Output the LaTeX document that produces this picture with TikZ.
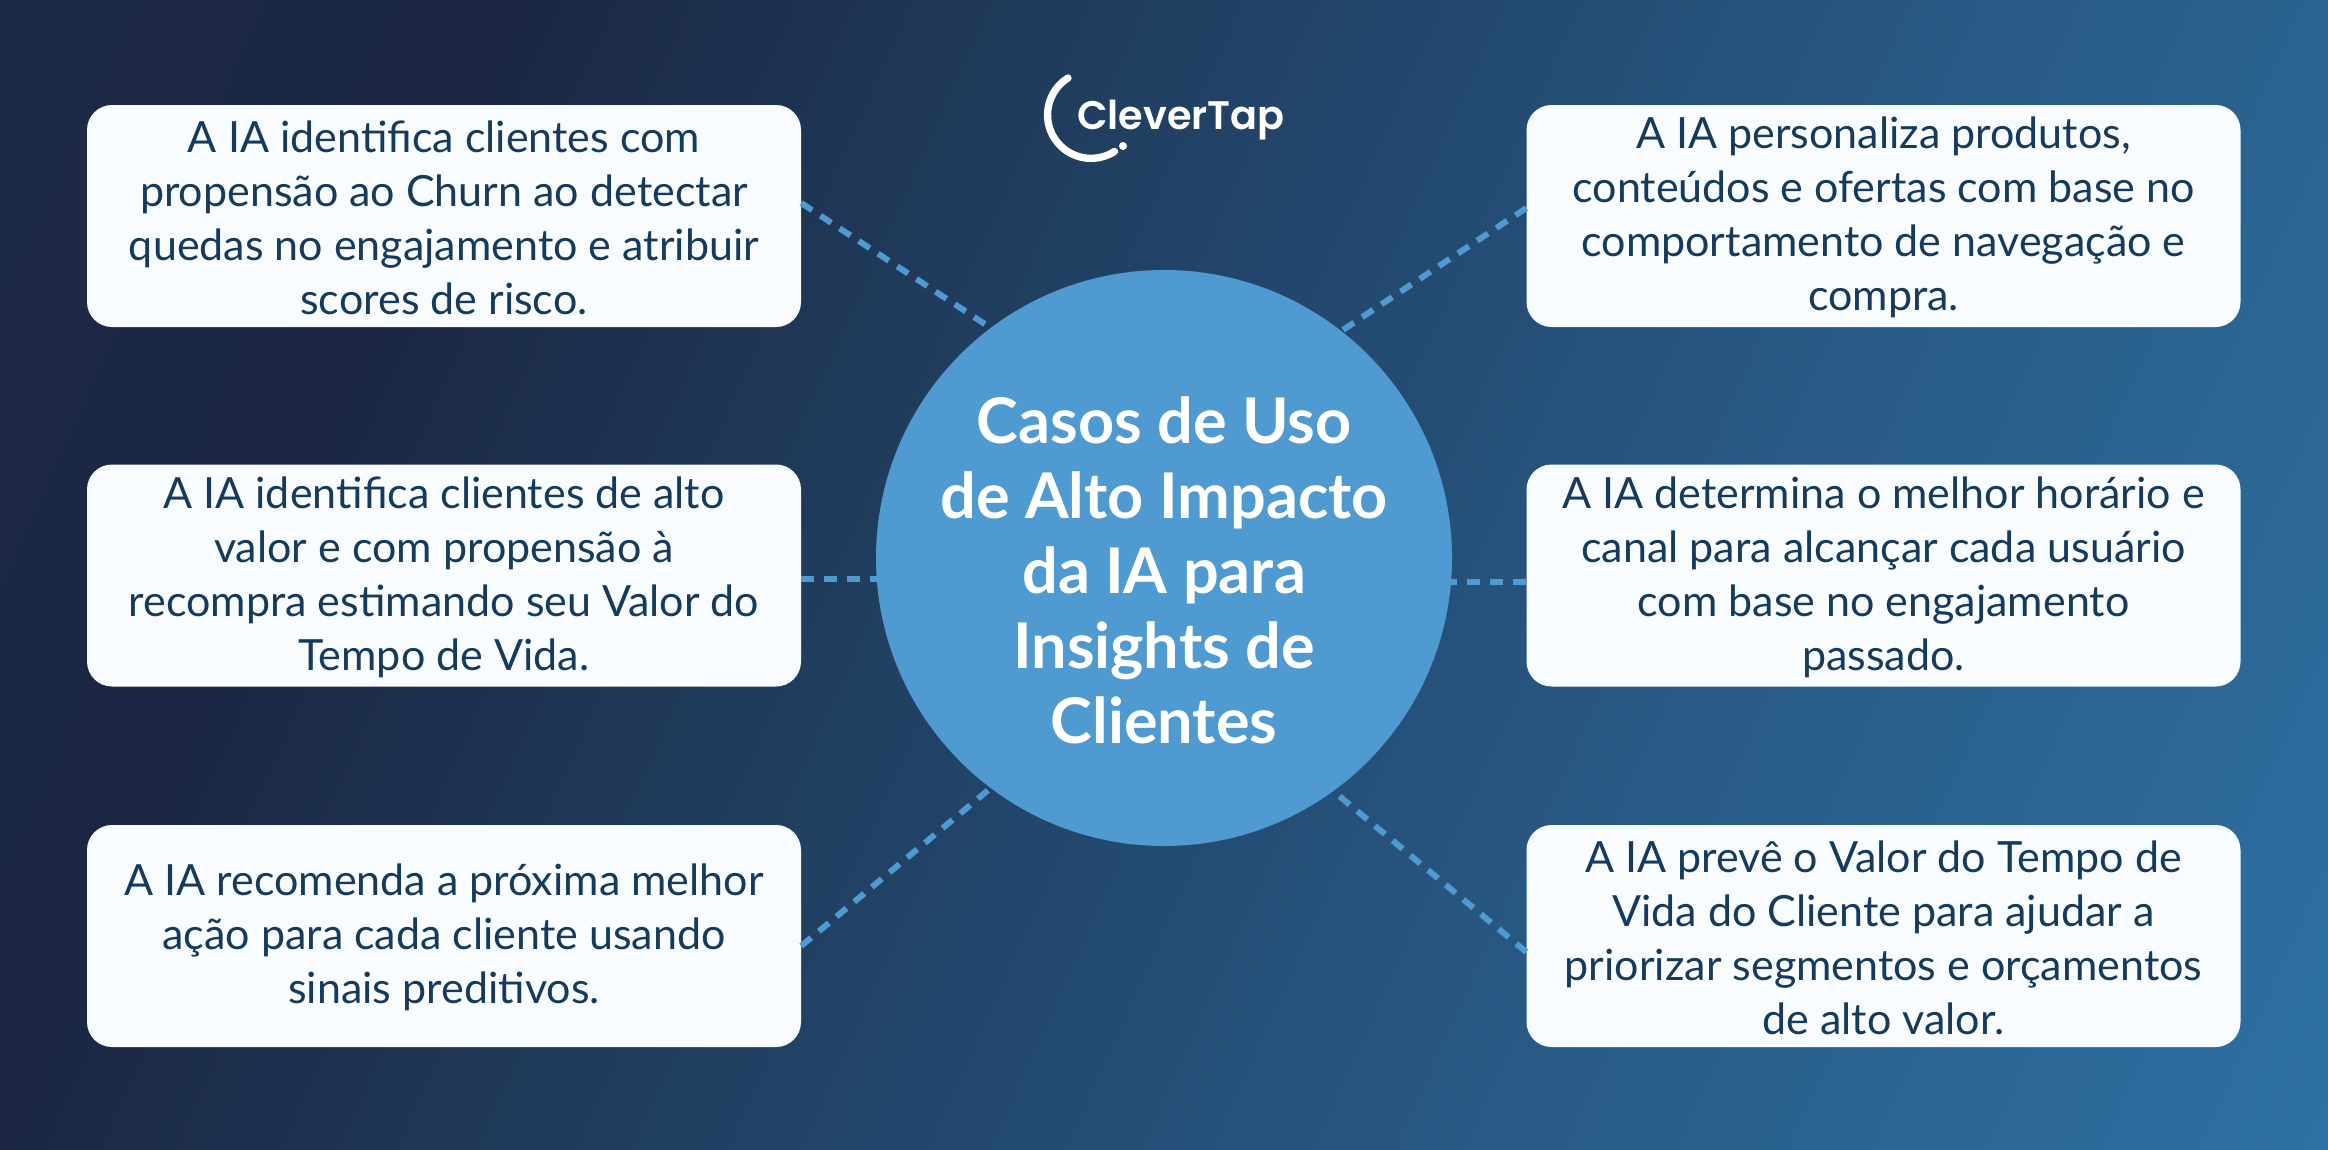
\documentclass[tikz,border=0pt]{standalone}
\usepackage{fontspec}
\setmainfont{Lato}
\newfontfamily\logofont{Poppins}[UprightFont=*-SemiBold]
\definecolor{inkc}{HTML}{163A5C}
\definecolor{paperc}{HTML}{F8FCFF}
\definecolor{bluec}{HTML}{4F9AD0}
\definecolor{bga}{HTML}{1C2945}
\definecolor{bgb}{HTML}{1B2742}
\definecolor{bgc}{HTML}{214062}
\definecolor{bgd}{HTML}{22466C}
\definecolor{bge}{HTML}{285A85}
\definecolor{bgf}{HTML}{2A6390}
\definecolor{bgg}{HTML}{2E70A3}
\pgfdeclarehorizontalshading{bgsh}{100bp}{color(0bp)=(bga);color(25bp)=(bga);color(34.1bp)=(bgb);color(45.9bp)=(bgc);color(49.7bp)=(bgd);color(60.1bp)=(bge);color(65.9bp)=(bgf);color(75bp)=(bgg);color(100bp)=(bgg)}
\tikzset{
  x=1pt,y=-1pt,
  card/.style={rectangle,rounded corners=25pt,fill=paperc,minimum width=714pt,minimum height=222pt,inner sep=0pt},
  cardtext/.style={inner sep=0pt,text=inkc,align=center,font=\fontsize{43}{54}\selectfont},
  hub/.style={circle,fill=bluec,minimum size=576pt,inner sep=0pt},
  hubtext/.style={inner sep=0pt,text=white,align=center,font=\fontsize{63}{75}\selectfont\bfseries},
  link/.style={draw=bluec,line width=6pt,dash pattern=on 13pt off 10pt},
  logotext/.style={inner sep=0pt,text=white,font=\fontsize{39.8}{40}\logofont}
}
\newcommand{\cardnode}[3]{%
  \node[card] (#1) at (#2) {};
  \node[cardtext] (#1text) at ([yshift=-1.5pt]#1.center) {#3};}
\begin{document}
\begin{tikzpicture}
\useasboundingbox (0,0) rectangle (2328,1149);
\begin{scope}
\clip (0,0) rectangle (2328,1149);
\shade[shading=bgsh,shading angle=-24.2] (-133,-722.5) rectangle (2461,1871.5);
\end{scope}
\node[hub] (hub) at (1164,558) {};
\node[hubtext] (title) at ([yshift=-12pt]hub.center) {Casos de Uso\\de Alto Impacto\\da IA para\\Insights de\\Clientes};
\cardnode{a}{444,216}{A IA identifica clientes com\\propensão ao Churn ao detectar\\quedas no engajamento e atribuir\\scores de risco.}
\cardnode{b}{444,575.5}{A IA identifica clientes de alto\\valor e com propensão à\\recompra estimando seu Valor do\\Tempo de Vida.}
\cardnode{c}{444,936}{A IA recomenda a próxima melhor\\ação para cada cliente usando\\sinais preditivos.}
\cardnode{d}{1883.5,216}{A IA personaliza produtos,\\conteúdos e ofertas com base no\\comportamento de navegação e\\compra.}
\cardnode{e}{1883.5,575.5}{A IA determina o melhor horário e\\canal para alcançar cada usuário\\com base no engajamento\\passado.}
\cardnode{f}{1883.5,936}{A IA prevê o Valor do Tempo de\\Vida do Cliente para ajudar a\\priorizar segmentos e orçamentos\\de alto valor.}
\draw[link] ([yshift=13pt]a.east) -- (hub.127.4);
\draw[link] ([yshift=-3.5pt]b.east) -- ([shift={(-287.2,21)}]hub.center);
\draw[link] ([yshift=-10pt]c.east) -- (hub.233);
\draw[link] ([yshift=8pt]d.west) -- (hub.52.2);
\draw[link] ([yshift=-6.5pt]e.west) -- ([shift={(287,24)}]hub.center);
\draw[link] ([yshift=-16pt]f.west) -- (hub.-54);
\coordinate (arcstart) at (1068,78);
\draw[white,line width=7.3pt,line cap=round] (arcstart) arc[start angle=-122,end angle=-302.6,radius=43.5];
\fill[white] (1123,146) circle[radius=4];
\node[logotext,anchor=base west] (logo) at (1077,129) {CleverTap};
\end{tikzpicture}
\end{document}
